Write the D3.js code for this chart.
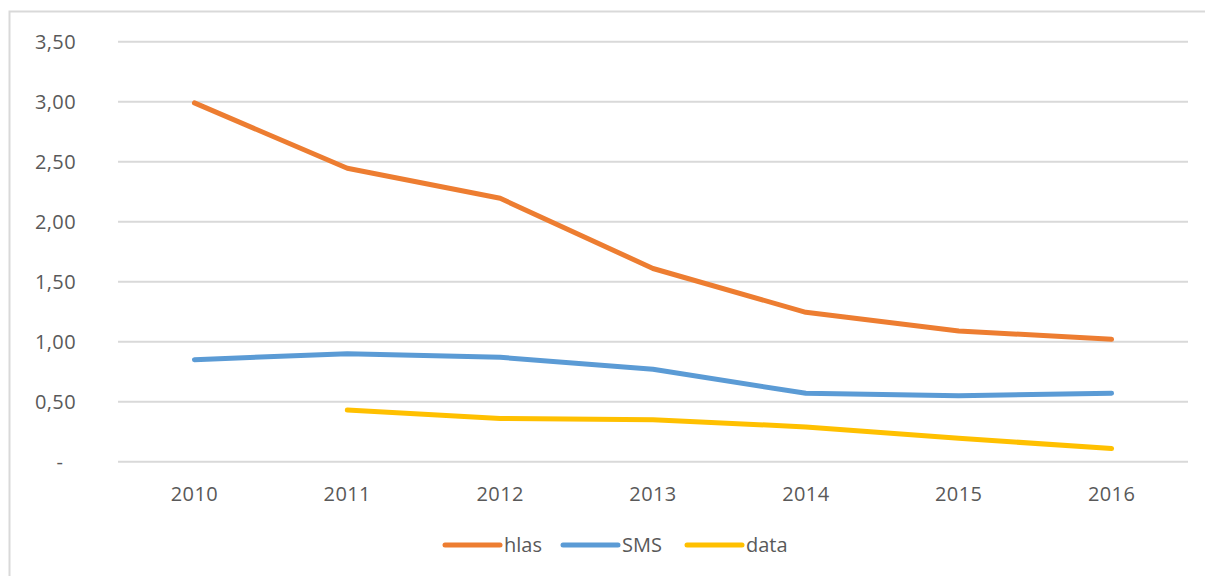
<!DOCTYPE html>
<html>
<head>
<meta charset="utf-8">
<title>hlas / SMS / data</title>
<style>
body {
	margin: 0;
	background: #ffffff;
}
svg text {
	font-family: "Open Sans", "Liberation Sans", sans-serif;
	fill: #595959;
}
</style>
<script src="https://d3js.org/d3.v7.min.js"></script>
</head>
<body>
<svg id="chart" width="1205" height="576"></svg>
<script>
var years = ['2010', '2011', '2012', '2013', '2014', '2015', '2016'];
var hlas = [2.99, 2.445, 2.195, 1.61, 1.245, 1.09, 1.02];
var sms = [0.85, 0.90, 0.87, 0.77, 0.57, 0.55, 0.57];
var dataVals = [null, 0.43, 0.36, 0.35, 0.29, 0.195, 0.11];
var yTicks = [0, 0.5, 1, 1.5, 2, 2.5, 3, 3.5];
var seriesNames = ['hlas', 'SMS', 'data'];
var seriesColors = ['#ED7D31', '#5B9BD5', '#FFC000'];

var svg = d3.select('#chart');

// outer chart border (runs off the right and bottom of the picture)
svg.append('rect')
	.attr('x', 9.5).attr('y', 11.5)
	.attr('width', 1220).attr('height', 600)
	.attr('fill', 'none')
	.attr('stroke', '#D9D9D9')
	.attr('stroke-width', 2);

var x = d3.scaleBand().domain(years).range([118, 1188]);
var y = d3.scaleLinear().domain([0, 3.5]).range([461.7, 41.7]);

// gridlines
svg.append('g').selectAll('line')
	.data(yTicks)
	.join('line')
	.attr('x1', 118).attr('x2', 1188)
	.attr('y1', function(d) { return y(d); })
	.attr('y2', function(d) { return y(d); })
	.attr('stroke', '#D9D9D9')
	.attr('stroke-width', 2);

// y labels
var fmt = function(d) {
	if (d === 0) return '-';
	return d.toFixed(2).replace('.', ',');
};
svg.append('g').selectAll('text')
	.data(yTicks)
	.join('text')
	.attr('x', function(d) { return d === 0 ? 60 : 76; })
	.attr('y', function(d) { return y(d) + 7; })
	.attr('text-anchor', function(d) { return d === 0 ? 'middle' : 'end'; })
	.style('font-size', '20px')
	.style('letter-spacing', '0.4px')
	.text(fmt);

// x labels
svg.append('g').selectAll('text')
	.data(years)
	.join('text')
	.attr('x', function(d) { return x(d) + x.bandwidth() / 2; })
	.attr('y', 501)
	.attr('text-anchor', 'middle')
	.style('font-size', '20px')
	.style('letter-spacing', '0.4px')
	.text(function(d) { return d; });

// lines
var series = [hlas, sms, dataVals];
var line = d3.line()
	.defined(function(d) { return d != null; })
	.x(function(d, i) { return x(years[i]) + x.bandwidth() / 2; })
	.y(function(d) { return y(d); });

series.forEach(function(s, i) {
	svg.append('path')
		.datum(s)
		.attr('d', line)
		.attr('fill', 'none')
		.attr('stroke', seriesColors[i])
		.attr('stroke-width', 5)
		.attr('stroke-linecap', 'round')
		.attr('stroke-linejoin', 'round');
});

// legend
var legendX = [445, 563, 687];
var lg = svg.append('g');
seriesNames.forEach(function(name, i) {
	lg.append('line')
		.attr('x1', legendX[i]).attr('x2', legendX[i] + 55)
		.attr('y1', 545).attr('y2', 545)
		.attr('stroke', seriesColors[i])
		.attr('stroke-width', 5)
		.attr('stroke-linecap', 'round');
	lg.append('text')
		.attr('x', legendX[i] + 59)
		.attr('y', 552)
		.style('font-size', '20px')
		.text(name);
});
</script>
</body>
</html>
